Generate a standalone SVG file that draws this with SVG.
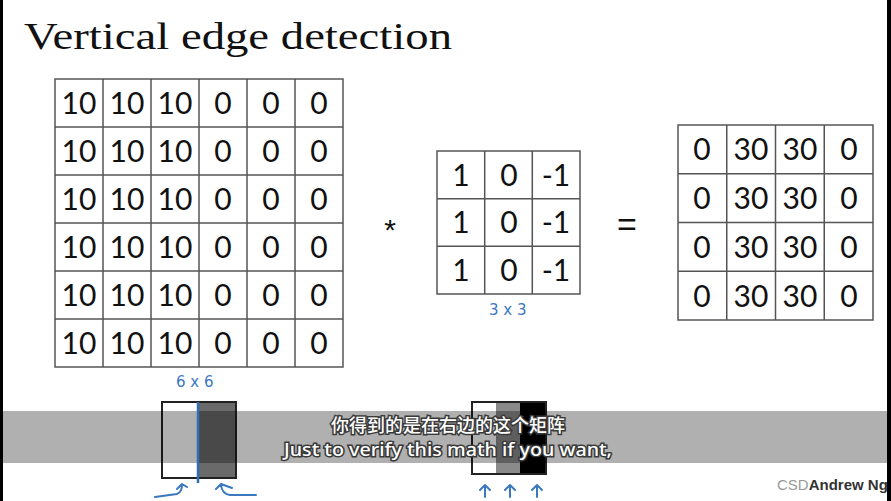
<svg xmlns="http://www.w3.org/2000/svg" width="891" height="501" viewBox="0 0 891 501">
<style>
.cell{fill:#fff;stroke:#555;stroke-width:1.5}
.num{font-family:Lato,"Open Sans","Liberation Sans",sans-serif;font-size:30px;fill:#111;text-anchor:middle}
.hw{font-family:"DejaVu Sans",sans-serif;font-size:15px;fill:#3a78c0}
.blue{fill:none;stroke:#3a78c0;stroke-width:2;stroke-linecap:round;stroke-linejoin:round}
.sub{font-family:"Noto Sans","Noto Sans CJK SC",sans-serif;font-size:18px;fill:#fff;stroke:#3a3a3a;stroke-width:3;paint-order:stroke;text-anchor:middle;font-weight:500}
</style>
<rect width="891" height="501" fill="#fff"/>
<text x="24" y="49" font-family="Liberation Serif,serif" font-size="38" fill="#111" textLength="428" lengthAdjust="spacingAndGlyphs">Vertical edge detection</text>

<g id="input-matrix">
<rect class="cell" x="55" y="79" width="288" height="288"/>
<path d="M103 79V367M151 79V367M199 79V367M247 79V367M295 79V367M55 127H343M55 175H343M55 223H343M55 271H343M55 319H343" stroke="#555" stroke-width="1.5"/>
<g class="num">
<text x="79" y="114">10</text><text x="127" y="114">10</text><text x="175" y="114">10</text><text x="223" y="114">0</text><text x="271" y="114">0</text><text x="319" y="114">0</text>
<text x="79" y="162">10</text><text x="127" y="162">10</text><text x="175" y="162">10</text><text x="223" y="162">0</text><text x="271" y="162">0</text><text x="319" y="162">0</text>
<text x="79" y="210">10</text><text x="127" y="210">10</text><text x="175" y="210">10</text><text x="223" y="210">0</text><text x="271" y="210">0</text><text x="319" y="210">0</text>
<text x="79" y="258">10</text><text x="127" y="258">10</text><text x="175" y="258">10</text><text x="223" y="258">0</text><text x="271" y="258">0</text><text x="319" y="258">0</text>
<text x="79" y="306">10</text><text x="127" y="306">10</text><text x="175" y="306">10</text><text x="223" y="306">0</text><text x="271" y="306">0</text><text x="319" y="306">0</text>
<text x="79" y="354">10</text><text x="127" y="354">10</text><text x="175" y="354">10</text><text x="223" y="354">0</text><text x="271" y="354">0</text><text x="319" y="354">0</text>
</g>
<text class="hw" x="176" y="387">6 x 6</text>
</g>

<text x="390" y="240" font-family="Liberation Sans,sans-serif" font-size="30" fill="#111" text-anchor="middle">*</text>

<g id="filter-matrix">
<rect class="cell" x="437" y="151" width="143" height="143"/>
<path d="M484.7 151V294M532.3 151V294M437 198.7H580M437 246.3H580" stroke="#555" stroke-width="1.5"/>
<g class="num">
<text x="461" y="186">1</text><text x="509" y="186">0</text><text x="556" y="186">-1</text>
<text x="461" y="233">1</text><text x="509" y="233">0</text><text x="556" y="233">-1</text>
<text x="461" y="281">1</text><text x="509" y="281">0</text><text x="556" y="281">-1</text>
</g>
<text class="hw" x="489" y="315">3 x 3</text>
</g>

<text x="627" y="236" font-family="Liberation Sans,sans-serif" font-size="34" fill="#111" text-anchor="middle">=</text>

<g id="output-matrix">
<rect class="cell" x="678" y="125" width="195" height="195"/>
<path d="M726.75 125V320M775.5 125V320M824.25 125V320M678 173.75H873M678 222.5H873M678 271.25H873" stroke="#555" stroke-width="1.5"/>
<g class="num">
<text x="702" y="160">0</text><text x="751" y="160">30</text><text x="800" y="160">30</text><text x="849" y="160">0</text>
<text x="702" y="209">0</text><text x="751" y="209">30</text><text x="800" y="209">30</text><text x="849" y="209">0</text>
<text x="702" y="258">0</text><text x="751" y="258">30</text><text x="800" y="258">30</text><text x="849" y="258">0</text>
<text x="702" y="307">0</text><text x="751" y="307">30</text><text x="800" y="307">30</text><text x="849" y="307">0</text>
</g>
</g>

<g id="input-image">
<rect x="162" y="402" width="36" height="76" fill="#fff"/>
<rect x="198" y="402" width="38" height="76" fill="#6a6a6a"/>
<rect x="162" y="402" width="74" height="76" fill="none" stroke="#222" stroke-width="2"/>
</g>
<g id="output-image">
<rect x="472" y="402" width="24" height="72" fill="#fff"/>
<rect x="496" y="402" width="24" height="72" fill="#8a8a8a"/>
<rect x="520" y="402" width="26" height="72" fill="#000"/>
<rect x="472" y="402" width="74" height="72" fill="none" stroke="#222" stroke-width="2"/>
</g>

<rect x="0" y="411" width="891" height="52" fill="#000" fill-opacity="0.31"/>
<line x1="198" y1="402" x2="198" y2="483" stroke="#2f6db5" stroke-width="2.5"/>

<g id="connectors">
<path class="blue" d="M155 497L177 494Q182 492 182 485M177 489L182 484L187 487"/>
<path class="blue" d="M221 485Q222 494 230 495L256 495M216 489L221 484L232 488"/>
<path class="blue" d="M485 497V485M480 490L485 485L490 490"/>
<path class="blue" d="M510 497V485M505 490L510 485L515 490"/>
<path class="blue" d="M537 497V485M532 490L537 485L542 490"/>
</g>

<text class="sub" x="448" y="432">你得到的是在右边的这个矩阵</text>
<text class="sub" x="448" y="456" textLength="328" lengthAdjust="spacingAndGlyphs">Just to verify this math if you want,</text>

<text x="777" y="490" font-family="Liberation Sans,sans-serif" font-size="15"><tspan fill="#999">CSD</tspan><tspan fill="#333" font-weight="bold">Andrew Ng</tspan></text>

<rect x="0" y="0" width="3" height="501" fill="#000"/>
<rect x="887" y="0" width="4" height="501" fill="#000"/>
</svg>
